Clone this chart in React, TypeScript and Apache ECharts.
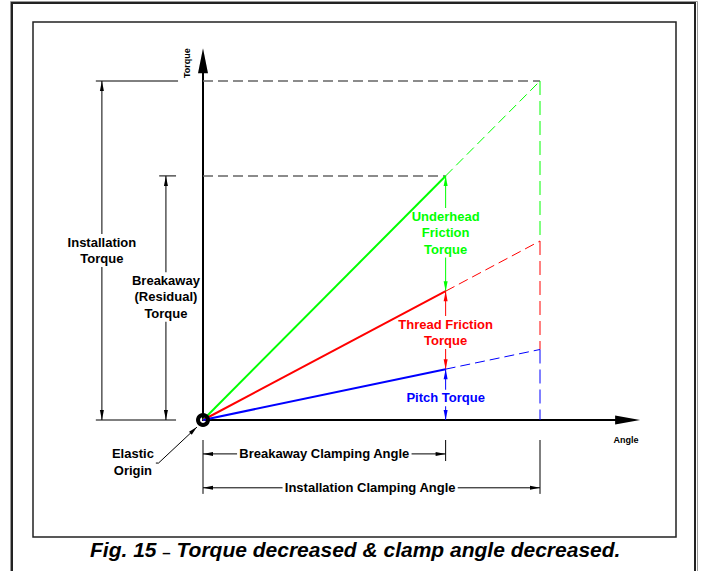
import React, { useEffect, useRef } from "react";
import * as echarts from "echarts";

const GREEN = "#00ff00";
const RED = "#ff0000";
const BLUE = "#0000ff";
const BLACK = "#000000";
const FONT = '"Liberation Sans", Arial, Helvetica, sans-serif';

// x: clamping angle, y: torque (arbitrary units; installation = 100)
const angles = [0, 72, 100]; // origin, breakaway clamping angle, installation clamping angle
const underheadTotal = [0, 72, 100]; // total torque (green)
const threadTotal = [0, 38, 52.8]; // thread + pitch torque (red)
const pitchTotal = [0, 15, 20.8]; // pitch torque (blue)
const angleAxisMax = 126;
const torqueAxisMax = 106;

// dimension lines with arrowheads at both ends: [x1, y1, x2, y2]
const dimLines = [
  [-30, 100, -30, 0],
  [-11, 72, -11, 0],
  [72, 72, 72, 38],
  [72, 38, 72, 15],
  [72, 15, 72, 0],
  [0, -10, 72, -10],
  [0, -20, 100, -20],
];
const dimColors = [BLACK, BLACK, GREEN, RED, BLUE, BLACK, BLACK];

// extension lines: [x1, y1, x2, y2]
const extLines = [
  [-31.8, 100, -7.4, 100],
  [-31.8, 0, -8, 0],
  [-13, 72, -8, 72],
  [0, -5.9, 0, -21.8],
  [72, -5.9, 72, -12.1],
  [100, -5.9, 100, -21.8],
];

// leader from "Elastic Origin" to the origin (arrow at last point)
const leaderPoints = [
  [-14.3, -12.7],
  [-13.2, -12.7],
  [-1.8, -2.1],
];

// annotation texts and anchors
const labelTexts = [
  "Installation\nTorque",
  "Breakaway\n(Residual)\nTorque",
  "Underhead\nFriction\nTorque",
  "Thread Friction\nTorque",
  "Pitch Torque",
  "Breakaway Clamping Angle",
  "Installation Clamping Angle",
  "Elastic\nOrigin",
];
const labelPos = [
  [-30, 50],
  [-11, 36.3],
  [72, 55.2],
  [72, 25.8],
  [72, 6.5],
  [36, -10],
  [49.6, -20],
  [-20.8, -12.4],
];
const labelColors = [BLACK, BLACK, GREEN, RED, BLUE, BLACK, BLACK, BLACK];

// axis titles
const axisTitles = ["Torque", "Angle"];
const axisTitlePos = [
  [-4.8, 105.3],
  [125.5, -5.9],
];
const axisTitleRot = [Math.PI / 2, 0];

const captionParts = ["Fig. 15", "–", "Torque decreased & clamp angle decreased."];

function arrowPoly(tip: number[], tail: number[], len = 10, w = 4) {
  const dx = tip[0] - tail[0];
  const dy = tip[1] - tail[1];
  const d = Math.hypot(dx, dy) || 1;
  const ux = dx / d;
  const uy = dy / d;
  const bx = tip[0] - ux * len;
  const by = tip[1] - uy * len;
  return [
    [tip[0], tip[1]],
    [bx - (uy * w) / 2, by + (ux * w) / 2],
    [bx + (uy * w) / 2, by - (ux * w) / 2],
  ];
}

function lineSeries(
  i0: number,
  i1: number,
  ys: number[],
  color: string,
  dashed: boolean
) {
  return {
    type: "line",
    data: [
      [angles[i0], ys[i0]],
      [angles[i1], ys[i1]],
    ],
    symbol: "none",
    silent: true,
    clip: false,
    z: 3,
    lineStyle: dashed
      ? { color, width: 1, type: [10, 5] }
      : { color, width: 2 },
  };
}

function verticalDashed(y0: number, y1: number, color: string) {
  return {
    type: "line",
    data: [
      [angles[2], y0],
      [angles[2], y1],
    ],
    symbol: "none",
    silent: true,
    clip: false,
    z: 3,
    lineStyle: { color, width: 1, type: [14, 6] },
  };
}

function grayDashed(xEnd: number, y: number) {
  return {
    type: "line",
    data: [
      [0, y],
      [xEnd, y],
    ],
    symbol: "none",
    silent: true,
    clip: false,
    z: 2,
    lineStyle: { color: "#666666", width: 1.5, type: [10, 5] },
  };
}

export default function App() {
  const ref = useRef<HTMLDivElement>(null);

  useEffect(() => {
    if (!ref.current) return;
    const chart = echarts.init(ref.current, null, { renderer: "svg" });
    const pxX = 3.37;
    const pxY = 3.39;

    const option: any = {
      animation: false,
      backgroundColor: "#ffffff",
      title: {
        text: `${captionParts[0]} {d|${captionParts[1]}} ${captionParts[2]}`,
        left: 90,
        top: 539,
        padding: 0,
        textStyle: {
          fontFamily: FONT,
          fontSize: 21,
          fontWeight: "bold",
          fontStyle: "italic",
          color: "#000",
          rich: {
            d: {
              fontFamily: FONT,
              fontSize: 15,
              fontWeight: "bold",
              fontStyle: "normal",
              color: "#000",
              verticalAlign: "bottom",
              lineHeight: 20,
            },
          },
        },
      },
      grid: {
        left: 203,
        top: 420 - torqueAxisMax * pxY,
        width: angleAxisMax * pxX,
        height: torqueAxisMax * pxY,
        containLabel: false,
      },
      xAxis: {
        type: "value",
        min: 0,
        max: angleAxisMax,
        axisLine: {
          show: true,
          symbol: ["none", "triangle"],
          symbolSize: [9, 25],
          lineStyle: { color: "#000", width: 2 },
        },
        axisTick: { show: false },
        axisLabel: { show: false },
        splitLine: { show: false },
      },
      yAxis: {
        type: "value",
        min: 0,
        max: torqueAxisMax,
        axisLine: {
          show: true,
          symbol: ["none", "triangle"],
          symbolSize: [10, 25],
          lineStyle: { color: "#000", width: 2 },
        },
        axisTick: { show: false },
        axisLabel: { show: false },
        splitLine: { show: false },
      },
      graphic: [
        {
          type: "rect",
          silent: true,
          shape: { x: 10.5, y: 1.5, width: 687, height: 640 },
          style: { fill: "none", stroke: "#999999", lineWidth: 1 },
        },
        {
          type: "rect",
          silent: true,
          shape: { x: 12, y: 3, width: 683, height: 640 },
          style: { fill: "none", stroke: "#222222", lineWidth: 2 },
        },
        {
          type: "rect",
          silent: true,
          shape: { x: 33, y: 22, width: 643, height: 515 },
          style: { fill: "none", stroke: "#222222", lineWidth: 1.5 },
        },
      ],
      series: [
        grayDashed(angles[2], underheadTotal[2]),
        grayDashed(angles[1], underheadTotal[1]),
        lineSeries(0, 1, underheadTotal, GREEN, false),
        lineSeries(0, 1, threadTotal, RED, false),
        lineSeries(0, 1, pitchTotal, BLUE, false),
        lineSeries(1, 2, underheadTotal, GREEN, true),
        lineSeries(1, 2, threadTotal, RED, true),
        lineSeries(1, 2, pitchTotal, BLUE, true),
        verticalDashed(underheadTotal[2], threadTotal[2], GREEN),
        verticalDashed(threadTotal[2], pitchTotal[2], RED),
        verticalDashed(pitchTotal[2], 0, BLUE),
        {
          type: "custom",
          silent: true,
          z: 2,
          data: extLines,
          encode: { x: [0, 2], y: [1, 3] },
          renderItem: (params: any, api: any) => {
            const p1 = api.coord([api.value(0), api.value(1)]);
            const p2 = api.coord([api.value(2), api.value(3)]);
            return {
              type: "line",
              shape: { x1: p1[0], y1: p1[1], x2: p2[0], y2: p2[1] },
              style: { stroke: "#000", lineWidth: 1 },
            };
          },
        },
        {
          type: "custom",
          silent: true,
          z: 2,
          data: dimLines,
          encode: { x: [0, 2], y: [1, 3] },
          renderItem: (params: any, api: any) => {
            const p1 = api.coord([api.value(0), api.value(1)]);
            const p2 = api.coord([api.value(2), api.value(3)]);
            const color = dimColors[params.dataIndex];
            return {
              type: "group",
              children: [
                {
                  type: "line",
                  shape: { x1: p1[0], y1: p1[1], x2: p2[0], y2: p2[1] },
                  style: { stroke: color, lineWidth: 1 },
                },
                {
                  type: "polygon",
                  shape: { points: arrowPoly(p1, p2) },
                  style: { fill: color },
                },
                {
                  type: "polygon",
                  shape: { points: arrowPoly(p2, p1) },
                  style: { fill: color },
                },
              ],
            };
          },
        },
        {
          type: "custom",
          silent: true,
          z: 2,
          data: [leaderPoints[0]],
          renderItem: (params: any, api: any) => {
            const pts = leaderPoints.map((p) => api.coord(p));
            const n = pts.length;
            return {
              type: "group",
              children: [
                {
                  type: "polyline",
                  shape: { points: pts },
                  style: { stroke: "#000", lineWidth: 1, fill: "none" },
                },
                {
                  type: "polygon",
                  shape: { points: arrowPoly(pts[n - 1], pts[n - 2], 9, 4) },
                  style: { fill: "#000" },
                },
              ],
            };
          },
        },
        {
          type: "custom",
          silent: true,
          z: 2,
          data: labelPos,
          renderItem: (params: any, api: any) => {
            const i = params.dataIndex;
            const p = api.coord([api.value(0), api.value(1)]);
            return {
              type: "text",
              x: p[0],
              y: p[1],
              style: {
                text: labelTexts[i],
                fill: labelColors[i],
                fontFamily: FONT,
                fontSize: 13,
                fontWeight: "bold",
                lineHeight: 16.5,
                align: "center",
                verticalAlign: "middle",
                backgroundColor: "#ffffff",
                padding: [0, 2],
              },
            };
          },
        },
        {
          type: "custom",
          silent: true,
          z: 4,
          data: axisTitlePos,
          renderItem: (params: any, api: any) => {
            const i = params.dataIndex;
            const p = api.coord([api.value(0), api.value(1)]);
            return {
              type: "text",
              x: p[0],
              y: p[1],
              rotation: axisTitleRot[i],
              style: {
                text: axisTitles[i],
                fill: "#000",
                fontFamily: FONT,
                fontSize: 9,
                fontWeight: "bold",
                align: "center",
                verticalAlign: "middle",
              },
            };
          },
        },
        {
          type: "custom",
          silent: true,
          z: 10,
          data: [[angles[0], underheadTotal[0]]],
          renderItem: (params: any, api: any) => {
            const p = api.coord([api.value(0), api.value(1)]);
            return {
              type: "ring",
              shape: { cx: p[0], cy: p[1], r: 7, r0: 3 },
              style: { fill: "#000" },
            };
          },
        },
      ],
    };

    chart.setOption(option);
    return () => chart.dispose();
  }, []);

  return (
    <div
      ref={ref}
      style={{
        position: "fixed",
        left: 0,
        top: 0,
        width: 702,
        height: 571,
        background: "#fff",
      }}
    />
  );
}
